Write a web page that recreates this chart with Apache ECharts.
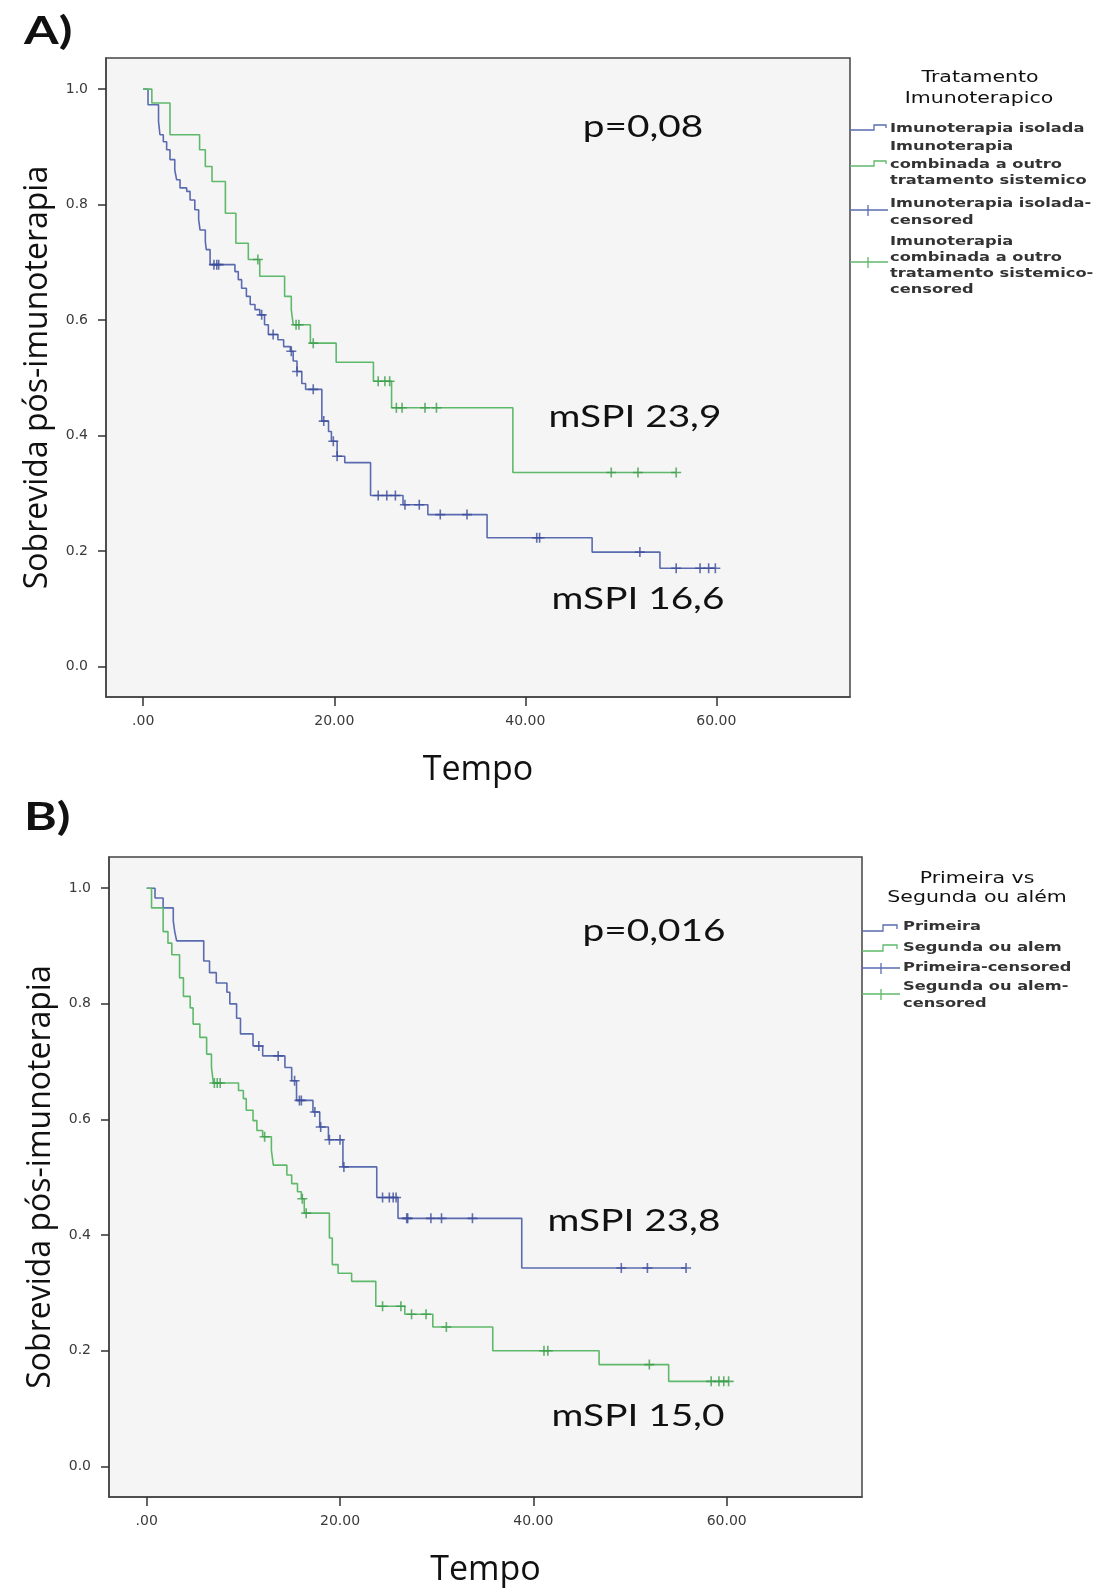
<!DOCTYPE html>
<html><head><meta charset="utf-8">
<script src="https://cdn.jsdelivr.net/npm/echarts@6/dist/echarts.min.js"></script>
<style>html,body{margin:0;padding:0;background:#fff}#c{width:1108px;height:1588px}</style>
</head><body><div id="c"></div>
<script>
// ---------- data ----------
const xTicks = [0, 20, 40, 60];
const yTicks = [0, 0.2, 0.4, 0.6, 0.8, 1.0];

// Panel A – Tratamento Imunoterapico  ([time, survival] at each step)
const aIsoladaSteps = [[0,1],[0.5,0.973],[1.6,0.944],[1.75,0.921],[2.1,0.909],[2.45,0.895],[2.8,0.878],[3.3,0.86],[3.5,0.843],[3.85,0.829],[4.55,0.823],[4.9,0.808],[5.4,0.791],[5.8,0.774],[5.95,0.756],[6.5,0.736],[6.6,0.722],[7.0,0.696],[9.6,0.684],[9.95,0.67],[10.3,0.655],[10.8,0.641],[11.2,0.627],[11.7,0.618],[12.2,0.609],[12.7,0.592],[13.1,0.575],[14.1,0.566],[14.7,0.554],[15.4,0.546],[15.7,0.529],[16.1,0.511],[16.6,0.49],[17.0,0.48],[18.7,0.425],[19.4,0.407],[19.7,0.39],[20.3,0.364],[21.1,0.353],[23.8,0.296],[27.2,0.28],[29.8,0.263],[36.0,0.223],[47.0,0.198],[54.1,0.17],[59.9,0.17]];
const aIsoladaCensored = [7.4,7.7,7.9,12.4,13.6,15.5,16.1,17.8,18.9,19.9,20.3,24.6,25.5,26.4,27.4,28.9,31.1,33.9,41.2,41.5,52.0,55.8,58.3,59.2,59.9];
const aCombinadaSteps = [[0,1],[0.9,0.976],[2.8,0.921],[5.9,0.895],[6.5,0.866],[7.2,0.84],[8.6,0.785],[9.7,0.733],[11.0,0.705],[12.2,0.676],[14.8,0.641],[15.5,0.618],[15.7,0.592],[17.5,0.56],[20.2,0.527],[24.1,0.494],[26.0,0.448],[38.7,0.336],[55.8,0.336]];
const aCombinadaCensored = [12.0,16.0,16.3,17.8,24.6,25.3,25.8,26.5,27.1,29.5,30.7,49.0,51.8,55.8];

// Panel B – Primeira vs Segunda ou além
const bPrimeiraSteps = [[0,1],[0.86,0.983],[1.7,0.966],[2.75,0.943],[2.9,0.925],[3.1,0.909],[5.9,0.874],[6.5,0.854],[7.2,0.836],[8.3,0.82],[8.6,0.8],[9.3,0.775],[9.7,0.748],[11.0,0.727],[12.0,0.71],[14.3,0.69],[15.0,0.667],[15.5,0.633],[17.2,0.613],[17.9,0.587],[18.8,0.565],[20.3,0.518],[23.8,0.465],[26.0,0.429],[38.8,0.343],[55.8,0.343]];
const bPrimeiraCensored = [11.6,13.6,15.3,15.8,16.0,17.4,18.0,18.9,20.0,20.4,24.4,25.1,25.5,25.8,26.9,27.0,29.4,30.5,33.7,49.1,51.8,55.8];
const bSegundaSteps = [[0,1],[0.5,0.966],[1.7,0.925],[2.2,0.905],[2.6,0.885],[3.4,0.845],[3.8,0.813],[4.5,0.793],[4.8,0.765],[5.5,0.742],[6.2,0.713],[6.7,0.69],[6.9,0.663],[9.5,0.65],[10.0,0.636],[10.3,0.616],[11.0,0.598],[11.4,0.581],[12.0,0.57],[12.9,0.547],[13.1,0.521],[14.5,0.504],[15.0,0.489],[15.6,0.475],[16.0,0.463],[16.3,0.438],[18.9,0.395],[19.2,0.349],[19.8,0.334],[21.2,0.32],[23.7,0.277],[26.7,0.263],[29.6,0.241],[35.8,0.2],[46.8,0.176],[54.0,0.147],[60.2,0.147]];
const bSegundaCensored = [7.0,7.3,7.6,12.2,16.1,16.5,24.4,26.3,27.4,28.9,31.0,41.1,41.5,52.0,58.4,59.2,59.7,60.2];

const legendA = {
  title: ['Tratamento', 'Imunoterapico'],
  items: [['Imunoterapia isolada'], ['Imunoterapia', 'combinada a outro', 'tratamento sistemico'],
          ['Imunoterapia isolada-', 'censored'], ['Imunoterapia', 'combinada a outro', 'tratamento sistemico-', 'censored']]
};
const legendB = {
  title: ['Primeira vs', 'Segunda ou além'],
  items: [['Primeira'], ['Segunda ou alem'], ['Primeira-censored'], ['Segunda ou alem-', 'censored']]
};
const annotA = ['p=0,08', 'mSPI 23,9', 'mSPI 16,6'];
const annotB = ['p=0,016', 'mSPI 23,8', 'mSPI 15,0'];

// ---------- helpers ----------
const BLUE = '#5a6bb0', GREEN = '#5fb96b', BLUE_C = '#3c4c9a', GREEN_C = '#3c9d4b';
const PLUS = 'path://M4.2,0H5.8V4.2H10V5.8H5.8V10H4.2V5.8H0V4.2H4.2Z';
function survAt(steps, t) { let s = steps[0][1]; for (const p of steps) { if (p[0] <= t + 1e-9) s = p[1]; } return s; }
function censorPts(steps, times) { return times.map(t => [t, survAt(steps, t)]); }

function xAxis(gi) {
  return {
    gridIndex: gi, type: 'value', min: -3.9, max: 74,
    axisLine: { show: true, onZero: false, lineStyle: { color: '#444', width: 1.5 } },
    axisTick: { show: true, customValues: xTicks, length: 9, lineStyle: { color: '#333', width: 1.5 } },
    axisLabel: { customValues: xTicks, margin: 17, fontFamily: 'DejaVu Sans', fontSize: 14, color: '#3a3a3a',
      formatter: v => v === 0 ? '.00' : v.toFixed(2) },
    splitLine: { show: false },
    name: 'Tempo', nameLocation: 'middle', nameGap: 56,
    nameTextStyle: { fontFamily: 'Open Sans', fontSize: 34, color: '#111' }
  };
}
function yAxis(gi) {
  return {
    gridIndex: gi, type: 'value', min: -0.053, max: 1.054,
    axisLine: { show: true, onZero: false, lineStyle: { color: '#444', width: 1.5 } },
    axisTick: { show: true, customValues: yTicks, length: 8, lineStyle: { color: '#333', width: 1.5 } },
    axisLabel: { customValues: yTicks, margin: 18, fontFamily: 'DejaVu Sans', fontSize: 14, color: '#3a3a3a',
      formatter: v => v.toFixed(1) },
    splitLine: { show: false },
    name: 'Sobrevida pós-imunoterapia', nameLocation: 'middle', nameGap: 52, nameRotate: 90,
    nameTextStyle: { fontFamily: 'Open Sans', fontSize: 32, color: '#111' }
  };
}
function kmLine(name, gi, steps, color) {
  return { name, type: 'line', xAxisIndex: gi, yAxisIndex: gi, step: 'end', data: steps,
    symbol: 'none', showSymbol: false, lineStyle: { color, width: 1.6 }, itemStyle: { color }, z: 2 };
}
function censorSeries(name, gi, steps, times, color) {
  return { name, type: 'scatter', xAxisIndex: gi, yAxisIndex: gi, data: censorPts(steps, times),
    symbol: PLUS, symbolSize: 10, itemStyle: { color }, z: 3 };
}

function txt(text, x, y, opt) {
  return { type: 'text', x, y, scaleX: opt.sx || 1, silent: true,
    style: { text, fill: opt.fill || '#222', fontSize: opt.fs, fontFamily: opt.ff, fontWeight: opt.fw || 'normal',
      align: opt.al || 'center', verticalAlign: 'middle', textAlign: opt.al || 'center', textVerticalAlign: 'middle' } };
}
function polyline(points, color) {
  return { type: 'polyline', silent: true, shape: { points }, style: { stroke: color, lineWidth: 1.3, fill: null } };
}

const graphics = [];
// panel letters
graphics.push(txt('A)', 24, 31, { fs: 39, ff: 'Lato', fw: 'bold', sx: 1.28, al: 'left', fill: '#111' }));
graphics.push(txt('B)', 24, 817, { fs: 39, ff: 'Lato', fw: 'bold', sx: 1.28, al: 'left', fill: '#111' }));
// annotations
const annStyle = { fs: 31, ff: 'Lato', sx: 1.25, fill: '#111' };
graphics.push(txt(annotA[0], 643, 127, annStyle));
graphics.push(txt(annotA[1], 635, 417, annStyle));
graphics.push(txt(annotA[2], 638, 599, annStyle));
graphics.push(txt(annotB[0], 654, 931, annStyle));
graphics.push(txt(annotB[1], 634, 1221, annStyle));
graphics.push(txt(annotB[2], 638, 1416, annStyle));
// legend titles
const ttl = { fs: 16, ff: 'DejaVu Sans', sx: 1.28, fill: '#111' };
graphics.push(txt(legendA.title[0], 980, 78, ttl));
graphics.push(txt(legendA.title[1], 979, 99, ttl));
graphics.push(txt(legendB.title[0], 977, 879, ttl));
graphics.push(txt(legendB.title[1], 977, 898, ttl));
// legend entries
const ent = { fs: 12.5, ff: 'DejaVu Sans', fw: 'bold', sx: 1.3, al: 'left', fill: '#333333' };
const aRows = [[128.5], [147, 165, 180.5], [204, 220.5], [241.5, 258, 273.5, 290]];
legendA.items.forEach((lines, i) => lines.forEach((l, j) => graphics.push(txt(l, 890, aRows[i][j], ent))));
const bRows = [[927], [948], [968], [987, 1004]];
legendB.items.forEach((lines, i) => lines.forEach((l, j) => graphics.push(txt(l, 903, bRows[i][j], ent))));
// legend symbols A
graphics.push(polyline([[850,130],[874,130],[874,125],[886,125],[886,128]], BLUE));
graphics.push(polyline([[850,166],[874,166],[874,161],[886,161],[886,164]], GREEN));
graphics.push(polyline([[850,210],[888,210]], BLUE));
graphics.push(polyline([[868,205],[868,216]], BLUE));
graphics.push(polyline([[850,262],[888,262]], GREEN));
graphics.push(polyline([[868,257],[868,268]], GREEN));
// legend symbols B
graphics.push(polyline([[862,931],[883,931],[883,925],[897,925],[897,929]], BLUE));
graphics.push(polyline([[862,951],[883,951],[883,945],[897,945],[897,949]], GREEN));
graphics.push(polyline([[862,968],[900,968]], BLUE));
graphics.push(polyline([[881,963],[881,974]], BLUE));
graphics.push(polyline([[862,994],[900,994]], GREEN));
graphics.push(polyline([[881,989],[881,1000]], GREEN));

const chart = echarts.init(document.getElementById('c'), null, { renderer: 'canvas' });
chart.setOption({
  animation: false,
  backgroundColor: '#ffffff',
  grid: [
    { left: 106, top: 58, width: 744, height: 639, show: true, backgroundColor: '#f5f5f5', borderColor: '#444', borderWidth: 1.5 },
    { left: 109, top: 857, width: 753, height: 644, show: true, backgroundColor: '#f5f5f5', borderColor: '#444', borderWidth: 1.5 }
  ],
  xAxis: [xAxis(0), xAxis(1)],
  yAxis: [yAxis(0), yAxis(1)],
  series: [
    kmLine('Imunoterapia isolada', 0, aIsoladaSteps, BLUE),
    kmLine('Imunoterapia combinada a outro tratamento sistemico', 0, aCombinadaSteps, GREEN),
    censorSeries('Imunoterapia isolada-censored', 0, aIsoladaSteps, aIsoladaCensored, BLUE_C),
    censorSeries('Imunoterapia combinada a outro tratamento sistemico-censored', 0, aCombinadaSteps, aCombinadaCensored, GREEN_C),
    kmLine('Primeira', 1, bPrimeiraSteps, BLUE),
    kmLine('Segunda ou alem', 1, bSegundaSteps, GREEN),
    censorSeries('Primeira-censored', 1, bPrimeiraSteps, bPrimeiraCensored, BLUE_C),
    censorSeries('Segunda ou alem-censored', 1, bSegundaSteps, bSegundaCensored, GREEN_C)
  ],
  graphic: { elements: graphics }
});
</script>
</body></html>
